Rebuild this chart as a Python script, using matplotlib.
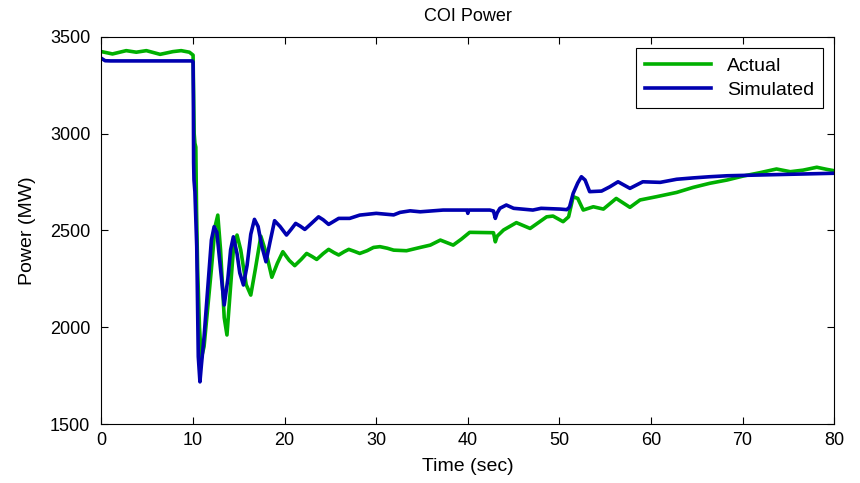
import matplotlib
matplotlib.use("Agg")
import matplotlib.pyplot as plt

# Actual (green)
t_actual = [0, 1.2, 2.7, 3.8, 4.9, 6.4, 7.8, 8.7, 9.6, 10.0, 10.12, 10.2, 10.3, 10.38, 10.5, 10.7,
            10.9, 11.2, 11.6, 12.0, 12.4, 12.7, 13.0, 13.4, 13.7, 14.0, 14.4, 14.8, 15.2, 15.8,
            16.3, 16.8, 17.4, 18.0, 18.6, 19.2, 19.8, 20.5, 21.1, 21.8, 22.4, 23.0, 23.5, 24.2,
            24.8, 25.4, 25.9, 26.5, 27.0, 27.6, 28.2, 29.0, 29.7, 30.4, 31.2, 31.9, 33.3, 34.8,
            35.9, 37.0, 38.4, 39.3, 40.2, 42.8, 42.9, 43.0, 43.2, 43.9, 45.3, 46.8, 48.6, 49.3,
            50.4, 51.0, 51.5, 52.0, 52.6, 53.7, 54.8, 56.2, 57.7, 58.8, 60.6, 62.8, 64.6, 66.4,
            68.3, 70.1, 71.9, 73.7, 75.2, 76.6, 78.1, 79.2, 80.0]
p_actual = [3423, 3411, 3428, 3420, 3428, 3409, 3423, 3428, 3420, 3405, 3000, 2950, 2930, 2600, 2300, 2000,
            1840, 1900, 2100, 2300, 2520, 2579, 2400, 2050, 1960, 2150, 2400, 2476, 2400, 2220,
            2166, 2300, 2470, 2380, 2258, 2330, 2390, 2345, 2318, 2350, 2381, 2365, 2350, 2380,
            2402, 2385, 2373, 2390, 2402, 2392, 2381, 2395, 2412, 2416, 2408, 2398, 2395, 2412,
            2424, 2450, 2424, 2455, 2490, 2488, 2465, 2441, 2470, 2502, 2540, 2510, 2570, 2574,
            2545, 2570, 2674, 2665, 2605, 2622, 2610, 2665, 2619, 2657, 2674, 2696, 2722, 2743,
            2760, 2781, 2798, 2817, 2803, 2811, 2826, 2815, 2808]

# Simulated (blue)
t_sim = [0, 0.4, 1.0, 5.0, 9.9, 10.0, 10.03, 10.06, 10.1, 10.2, 10.4, 10.57, 10.75, 10.9, 11.2,
         11.6, 12.0, 12.3, 12.6, 13.0, 13.4, 13.8, 14.1, 14.4, 14.8, 15.1, 15.5, 15.9, 16.3,
         16.7, 17.1, 17.5, 17.96, 18.4, 18.9, 19.5, 20.2, 20.7, 21.2, 21.7, 22.2, 22.9, 23.7,
         24.2, 24.8, 25.3, 25.9, 27.1, 28.2, 30.0, 31.9, 32.6, 33.7, 34.8, 37.3, 39.9, 40.0,
         40.1, 42.4, 42.8, 43.0, 43.2, 43.5, 44.2, 45.0, 47.1, 48.0, 50.1, 50.8, 51.1, 51.5,
         52.0, 52.4, 52.8, 53.3, 54.6, 55.5, 56.4, 57.7, 59.1, 61.0, 62.8, 64.6, 66.4, 68.3,
         71.9, 75.5, 80.0]
p_sim = [3388, 3376, 3375, 3375, 3375, 3370, 3200, 2850, 2760, 2700, 2416, 1848, 1718, 1800, 1950,
         2200, 2450, 2519, 2490, 2300, 2115, 2250, 2400, 2467, 2380, 2280, 2218, 2320, 2480,
         2557, 2520, 2420, 2338, 2440, 2550, 2520, 2476, 2505, 2536, 2522, 2505, 2535, 2570,
         2555, 2531, 2545, 2562, 2562, 2579, 2588, 2580, 2593, 2601, 2596, 2605, 2605, 2588,
         2605, 2605, 2600, 2562, 2590, 2614, 2631, 2614, 2605, 2614, 2610, 2607, 2620, 2691,
         2745, 2777, 2760, 2700, 2703, 2725, 2751, 2717, 2751, 2748, 2764, 2771, 2777, 2782,
         2786, 2790, 2795]

x_ticks = [0, 10, 20, 30, 40, 50, 60, 70, 80]
y_ticks = [1500, 2000, 2500, 3000, 3500]

plt.rcParams['font.family'] = ['Liberation Sans', 'DejaVu Sans']

fig = plt.figure(figsize=(8.6, 4.83), dpi=100)
ax = fig.add_axes([0.118, 0.122, 0.852, 0.802])

ax.plot(t_actual, p_actual, color='#00b000', lw=2.6, label='Actual')
ax.plot(t_sim, p_sim, color='#0000b0', lw=2.6, label='Simulated')

ax.set_xlim(0, 80)
ax.set_ylim(1500, 3500)
ax.set_xticks(x_ticks)
ax.set_yticks(y_ticks)
ax.tick_params(direction='in', top=True, right=True, labelsize=13, length=5, width=0.8)
ax.tick_params(axis='x', pad=6)
ax.tick_params(axis='y', pad=8)
for s in ax.spines.values():
    s.set_linewidth(0.8)

ax.set_xlabel('Time (sec)', fontsize=14, labelpad=6)
ax.set_ylabel('Power (MW)', fontsize=14, labelpad=10)
ax.set_title('COI Power', fontsize=13, pad=11)

leg = ax.legend(loc='upper right', fontsize=14, fancybox=False, edgecolor='black',
                framealpha=1, handlelength=3.4, borderaxespad=0.6, labelspacing=0.35,
                borderpad=0.45)
leg.get_frame().set_linewidth(0.8)

fig.savefig('out.png', dpi=100)
